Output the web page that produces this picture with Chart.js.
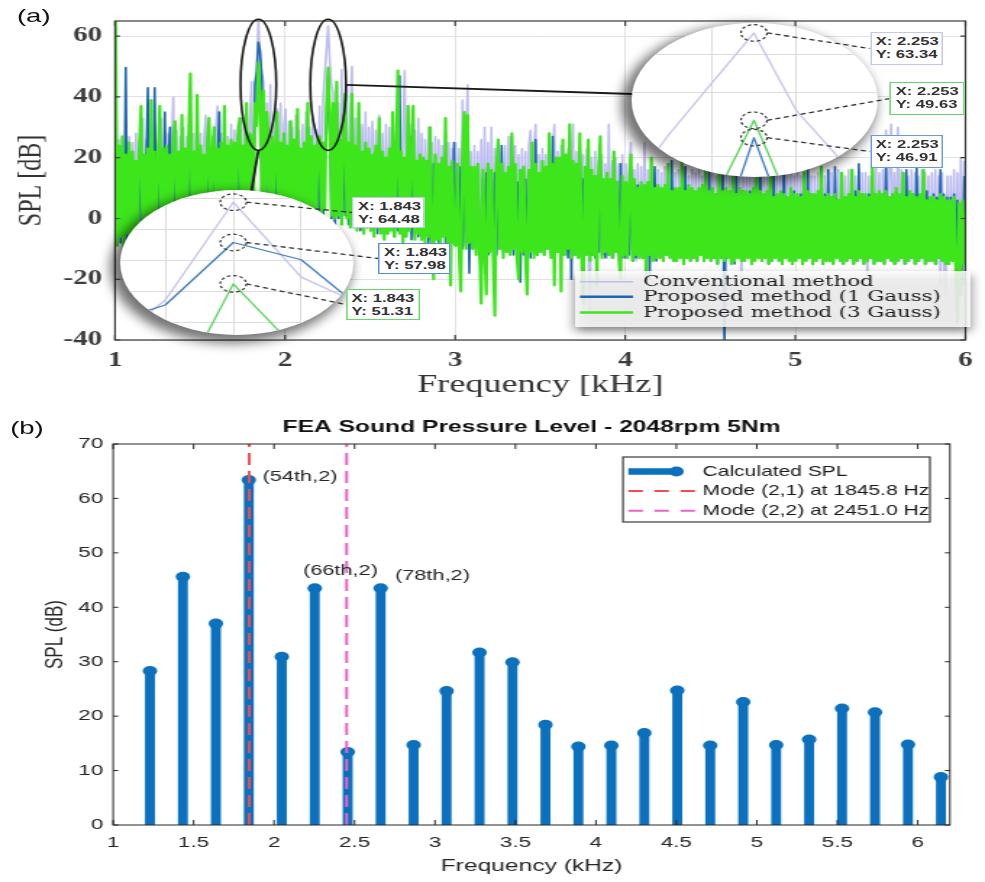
<!DOCTYPE html>
<html lang="en">
<head>
<meta charset="utf-8">
<title>SPL comparison</title>
<script src="https://cdn.jsdelivr.net/npm/chart.js@4.4.1/dist/chart.umd.min.js"></script>
<style>
  html, body { margin: 0; padding: 0; background: #fff; overflow: hidden; }
  /* the figure is laid out narrow and widened as a whole */
  #figure { position: relative; width: 680px; height: 882px; transform: scaleX(1.4485); transform-origin: 0 0; }
  #figure canvas { position: absolute; }
  .lens { position: absolute; overflow: hidden; border-radius: 50%; background: #fff;
          box-shadow: -4px 5px 10px 3px rgba(0, 0, 0, 0.55); }
  .lens canvas { left: 0; top: 0; }
  .tip { position: absolute; box-sizing: border-box; background: #fff; border: 1.5px solid #999;
         font: bold 11.5px "Liberation Sans", Arial, sans-serif; color: #333; line-height: 13px;
         padding: 2px 0 0 3px; white-space: nowrap; }
  .panel-tag { position: absolute; font: 19px "Liberation Sans", Arial, sans-serif; color: #111; }
</style>
</head>
<body>
<div id="figure">
  <div class="panel-tag" style="left:11.7px; top:5px;">(a)</div>
  <canvas id="specChart" width="680" height="400" style="left:0; top:0;"></canvas>
  <div class="lens" style="left:83px; top:190px; width:161px; height:145px;"><canvas id="lensAChart" width="161" height="145"></canvas></div>
  <div class="lens" style="left:436px; top:23px; width:170px; height:154px;"><canvas id="lensBChart" width="170" height="154"></canvas></div>
  <canvas id="tipLayer" width="680" height="400" style="left:0; top:0;"></canvas>
  <div class="panel-tag" style="left:7px; top:417px;">(b)</div>
  <canvas id="feaChart" width="680" height="472" style="left:0; top:410px;"></canvas>
</div>
<script>
// ---------- (a) measured spectra, 10 Hz bins ----------
const freqA = [
  1.003,1.013,1.023,1.033,1.043,1.053,1.063,1.073,1.083,1.093,
  1.103,1.113,1.123,1.133,1.143,1.153,1.163,1.173,1.183,1.193,
  1.203,1.213,1.223,1.233,1.243,1.253,1.263,1.273,1.283,1.293,
  1.303,1.313,1.323,1.333,1.343,1.353,1.363,1.373,1.383,1.393,
  1.403,1.413,1.423,1.433,1.443,1.453,1.463,1.473,1.483,1.493,
  1.503,1.513,1.523,1.533,1.543,1.553,1.563,1.573,1.583,1.593,
  1.603,1.613,1.623,1.633,1.643,1.653,1.663,1.673,1.683,1.693,
  1.703,1.713,1.723,1.733,1.743,1.753,1.763,1.773,1.783,1.793,
  1.803,1.813,1.823,1.833,1.843,1.853,1.863,1.873,1.883,1.893,
  1.903,1.913,1.923,1.933,1.943,1.953,1.963,1.973,1.983,1.993,
  2.003,2.013,2.023,2.033,2.043,2.053,2.063,2.073,2.083,2.093,
  2.103,2.113,2.123,2.133,2.143,2.153,2.163,2.173,2.183,2.193,
  2.203,2.213,2.223,2.233,2.243,2.253,2.263,2.273,2.283,2.293,
  2.303,2.313,2.323,2.333,2.343,2.353,2.363,2.373,2.383,2.393,
  2.403,2.413,2.423,2.433,2.443,2.453,2.463,2.473,2.483,2.493,
  2.503,2.513,2.523,2.533,2.543,2.553,2.563,2.573,2.583,2.593,
  2.603,2.613,2.623,2.633,2.643,2.653,2.663,2.673,2.683,2.693,
  2.703,2.713,2.723,2.733,2.743,2.753,2.763,2.773,2.783,2.793,
  2.803,2.813,2.823,2.833,2.843,2.853,2.863,2.873,2.883,2.893,
  2.903,2.913,2.923,2.933,2.943,2.953,2.963,2.973,2.983,2.993,
  3.003,3.013,3.023,3.033,3.043,3.053,3.063,3.073,3.083,3.093,
  3.103,3.113,3.123,3.133,3.143,3.153,3.163,3.173,3.183,3.193,
  3.203,3.213,3.223,3.233,3.243,3.253,3.263,3.273,3.283,3.293,
  3.303,3.313,3.323,3.333,3.343,3.353,3.363,3.373,3.383,3.393,
  3.403,3.413,3.423,3.433,3.443,3.453,3.463,3.473,3.483,3.493,
  3.503,3.513,3.523,3.533,3.543,3.553,3.563,3.573,3.583,3.593,
  3.603,3.613,3.623,3.633,3.643,3.653,3.663,3.673,3.683,3.693,
  3.703,3.713,3.723,3.733,3.743,3.753,3.763,3.773,3.783,3.793,
  3.803,3.813,3.823,3.833,3.843,3.853,3.863,3.873,3.883,3.893,
  3.903,3.913,3.923,3.933,3.943,3.953,3.963,3.973,3.983,3.993,
  4.003,4.013,4.023,4.033,4.043,4.053,4.063,4.073,4.083,4.093,
  4.103,4.113,4.123,4.133,4.143,4.153,4.163,4.173,4.183,4.193,
  4.203,4.213,4.223,4.233,4.243,4.253,4.263,4.273,4.283,4.293,
  4.303,4.313,4.323,4.333,4.343,4.353,4.363,4.373,4.383,4.393,
  4.403,4.413,4.423,4.433,4.443,4.453,4.463,4.473,4.483,4.493,
  4.503,4.513,4.523,4.533,4.543,4.553,4.563,4.573,4.583,4.593,
  4.603,4.613,4.623,4.633,4.643,4.653,4.663,4.673,4.683,4.693,
  4.703,4.713,4.723,4.733,4.743,4.753,4.763,4.773,4.783,4.793,
  4.803,4.813,4.823,4.833,4.843,4.853,4.863,4.873,4.883,4.893,
  4.903,4.913,4.923,4.933,4.943,4.953,4.963,4.973,4.983,4.993,
  5.003,5.013,5.023,5.033,5.043,5.053,5.063,5.073,5.083,5.093,
  5.103,5.113,5.123,5.133,5.143,5.153,5.163,5.173,5.183,5.193,
  5.203,5.213,5.223,5.233,5.243,5.253,5.263,5.273,5.283,5.293,
  5.303,5.313,5.323,5.333,5.343,5.353,5.363,5.373,5.383,5.393,
  5.403,5.413,5.423,5.433,5.443,5.453,5.463,5.473,5.483,5.493,
  5.503,5.513,5.523,5.533,5.543,5.553,5.563,5.573,5.583,5.593,
  5.603,5.613,5.623,5.633,5.643,5.653,5.663,5.673,5.683,5.693,
  5.703,5.713,5.723,5.733,5.743,5.753,5.763,5.773,5.783,5.793,
  5.803,5.813,5.823,5.833,5.843,5.853,5.863,5.873,5.883,5.893,
  5.903,5.913,5.923,5.933,5.943,5.953,5.963,5.973,5.983,5.993
];

// conventional method, dB
const splConv = [
  60,-5,26,-8,24,-3,30,-9,27,-4,
  25,-6,28,-3,24,-7,33,-5,26,-2,
  -5,27,-3,31,-6,25,-4,33,-7,29,
  -4,28,-6,26,40,-3,29,-5,27,-4,
  30,-2,27,-5,32,-3,28,-4,31,-2,
  28,-3,26,34,-2,29,-4,27,-1,30,
  37,-1,28,-3,30,0,27,-2,31,1,
  29,2,31,0,33,1,30,35,2,32,
  45,3,40,48.7,64.48,52.4,47.4,45,3,38,
  2,44,1,33,3,36,0,38,2,31,
  36,-1,32,1,30,-2,34,0,29,-1,
  31,0,35,2,30,-1,33,1,29,2,
  37,1,39,47.6,55.5,63.34,51.25,43.9,41,2,
  1,38,0,49,2,36,44,-1,34,50,
  -2,33,0,37,-3,31,-1,35,-2,30,
  -3,32,-1,29,-4,34,-2,28,-3,31,
  -4,30,-2,33,-5,28,-3,36,-4,29,
  48.7,-5,37,-3,31,-6,29,-4,33,-5,
  28,-6,26,-4,30,-7,25,-5,27,-6,
  26,-7,24,-5,28,-8,25,-6,23,-7,
  25,-8,23,-6,39,-9,24,44,-7,22,
  -9,24,-8,22,-10,26,-7,30,-9,25,
  -10,30,-9,23,-11,25,-8,22,-10,24,
  -10,27,-9,22,-11,24,-8,21,-10,23,
  -11,22,-9,24,29,-10,23,31,-12,21,
  -10,23,-11,21,-9,24,-12,22,31,-10,
  22,-11,24,-10,21,-12,23,-11,20,31,
  -12,22,-11,24,-13,21,-12,23,-11,-30,
  20,-12,22,-13,19,-11,21,-12,18,-13,
  31,-12,19,-13,20,-11,18,-12,21,-13,
  18,-13,17,25,-12,16,-14,18,-13,17,
  -13,25,-14,16,-12,17,-13,15,-14,16,
  -13,15,-14,17,-12,14,-13,16,-14,15,
  -14,16,-13,15,-15,17,-13,14,-14,16,
  -13,15,-14,16,-12,14,-14,17,-13,15,
  -14,16,-13,14,-15,15,-13,17,-14,15,
  -13,14,-15,16,-14,15,-13,14,-22,15,
  -14,15,-13,16,-15,14,-14,16,-13,15,
  -14,14,-13,15,-15,16,-14,14,-13,15,
  -14,15,-15,14,-13,16,-14,15,-15,14,
  -14,15,-13,14,-15,16,-14,15,-13,14,
  -15,14,-14,15,-13,16,-15,14,-14,15,
  -14,15,-15,14,-13,16,-14,15,-15,14,
  -14,16,-13,15,-15,14,-14,16,-13,15,
  -15,15,-20,14,-13,16,-15,19,-14,15,
  -14,16,-15,29,-13,15,31,-14,15,-15,
  30,-14,16,-13,15,-15,14,-14,16,-13,
  15,-15,14,-14,16,-13,15,-15,14,-14,
  15,-14,16,-15,14,-22,15,-14,-25,14,
  -15,14,-14,16,-16,15,-15,20,-14,19
];

// proposed method, 1 Gauss, dB
const spl1Gauss = [
  20,-6,22,-8,18,-4,49.7,-7,21,-5,
  19,-3,17,-5,20,-2,18,-6,16,43,
  -4,18,-3,43,-6,19,-2,17,-5,35,
  -3,18,30,-4,20,-5,17,-3,19,-6,
  18,-2,20,-4,17,-1,21,-3,19,-2,
  20,-3,18,-1,21,-4,19,-2,17,-3,
  19,35,-2,20,-1,18,-3,21,0,19,
  -1,22,1,20,-2,23,0,21,-1,24,
  22,1,44.5,47.9,57.98,55.2,46.3,2,24,0,
  -1,23,0,21,-2,24,1,20,-1,22,
  -2,21,0,23,-3,20,-1,24,-2,22,
  0,22,-1,30,1,21,-2,23,0,25,
  1,24,-1,22,27.7,46.91,29.3,0,23,-2,
  24,0,26,-1,23,1,25,-2,22,0,
  -3,21,-1,23,-4,20,-2,22,-3,19,
  -4,20,-2,22,-5,19,-3,21,-4,18,
  -5,19,-3,21,-6,18,-4,47,-5,20,
  -6,18,-4,27,-7,19,-5,17,-6,20,
  -7,17,-5,19,-8,16,-6,18,-7,16,
  -8,16,-6,18,-9,15,-7,17,-8,25,
  -9,15,-7,17,-10,14,-8,16,-18,15,
  -10,14,-8,16,-11,-17,13,-9,15,-12,
  -11,14,-9,15,-12,13,-10,24,-11,14,
  -11,13,-10,27,-12,14,-9,12,-21,13,
  -12,13,-10,14,-13,12,-11,26,-12,13,
  -11,14,-12,13,-10,15,-11,27,-12,14,
  -11,15,-12,14,-10,21,-13,15,-20,14,
  -12,14,-11,22,-13,13,-12,15,-11,14,
  -12,12,-13,11,-11,19,-12,10,-13,12,
  -12,11,-13,10,-11,12,-12,18,-13,11,
  -13,10,-12,17,-14,9,-13,11,-12,10,
  -13,9,-14,10,-20,8,-13,17,-14,9,
  -13,8,-14,9,-12,10,-13,19,-14,8,
  -14,9,-13,8,-15,17,-13,9,-14,8,
  -13,8,-14,9,-12,8,-14,10,-13,18,
  -14,9,-13,8,-15,9,-13,16,-42,8,
  -13,8,-14,9,-15,17,-13,8,-14,9,
  -14,8,-13,9,-15,8,-14,10,-13,19,
  -14,7,-13,8,-15,9,-14,16,-13,7,
  -14,8,-15,18,-13,7,-14,8,-15,9,
  -14,7,-13,8,-15,9,-14,17,-13,8,
  -15,8,-14,7,-13,9,-15,8,-14,16,
  -14,7,-15,17,-13,6,-14,8,-15,7,
  -14,8,-13,7,-15,9,-14,18,-13,8,
  -15,7,-14,8,-13,9,-15,7,-14,8,
  -14,8,-15,17,-13,7,-14,8,-15,9,
  -14,7,-13,8,-15,16,-14,7,-13,8,
  -15,17,-14,7,-13,8,-15,9,-14,7,
  -14,8,-15,7,-13,16,-14,8,-15,7,
  -15,7,-14,8,-16,6,-15,-20,-22,14
];

// proposed method, 3 Gauss, dB
const spl3Gauss = [
  66,-9,24,-6,27,-12,21,-5,25,-15,
  22,-7,19,-4,24,37,-8,21,-5,23,
  -6,39,-3,22,-7,20,37,-5,23,-8,
  24,-4,21,-6,25,32,-3,22,-7,34,
  -5,23,-2,26,47.7,-4,22,-6,40.6,-3,
  24,-4,21,-2,25,33,-5,22,30,-3,
  23,-2,25,-4,37,0,24,-3,26,-1,
  25,1,27,33,-1,24,2,38,0,28,
  26,2,38,30.5,51.31,40,4,42,-1,35,
  24,-1,27,2,23,35,-2,25,1,28,
  -3,24,0,32,-2,26,-4,36,0,23,
  -1,25,2,38,-2,27,0,24,3,26,
  27,2,25,3,36.5,49.63,34.2,1,38,0,
  45,1,26,-2,28,41,0,25,-3,41,
  -1,24,-4,38,-2,22,-5,25,-3,23,
  -4,21,-6,24,-3,33,-5,22,-7,20,
  -5,23,-4,35,-6,21,48.7,-5,22,-8,
  20,-6,37,-4,22,37,-7,19,-5,21,
  -7,20,-9,19,-6,30,-8,-20,21,-7,
  18,-9,20,-6,33,-10,17,-22,19,-8,
  -9,18,-11,-24,20,35,-10,34,-8,17,
  -10,17,-12,18,-9,-28,16,-11,-25,18,
  -11,16,-12,-32,17,26,-10,18,-13,15,
  -11,17,-12,28,-10,18,-13,-20,16,-11,
  17,-12,-25,16,-11,25,-13,18,-12,15,
  -11,19,-12,17,-10,28,-13,18,-22,20,
  -11,20,-24,26,-12,21,-10,31,-13,19,
  -12,18,-13,28,-11,-28,17,-12,26,-14,
  16,-12,14,-22,15,27,-13,13,-11,15,
  -12,13,-13,22,-11,12,-14,-20,14,-12,
  12,-13,11,21,-14,13,-12,10,-13,12,
  -13,11,-20,12,-12,20,-14,10,-13,11,
  -13,10,-14,11,-12,18,-13,9,-14,10,
  -14,10,-13,19,-15,9,-13,11,-14,10,
  -13,9,-14,10,-12,11,-14,16,-13,9,
  -14,10,-13,8,-15,17,-13,9,-14,10,
  -13,9,-15,15,-14,8,-13,10,-14,9,
  -14,9,-13,8,-15,10,-14,18,-13,9,
  -14,8,-13,9,-15,16,-14,7,-13,8,
  -14,9,-15,8,-13,7,-14,10,-15,8,
  -14,8,-13,7,-15,15,-14,9,-13,8,
  -15,8,-14,9,-13,17,-15,7,-14,8,
  -14,7,-15,8,-13,6,-14,15,-15,7,
  -14,8,-13,16,-15,7,-14,9,-13,8,
  -15,8,-14,7,-13,17,-15,8,-14,9,
  -14,8,-15,9,-13,7,-14,8,-15,10,
  -14,8,-13,15,-15,7,-14,9,-13,8,
  -15,7,-14,8,-13,16,-15,6,-14,7,
  -14,7,-15,6,-13,8,-14,7,-15,6,
  -15,6,-14,7,-16,-34,5,-25,6,-15
];

const xTicksA = [1, 2, 3, 4, 5, 6];
const yTicksA = [-40, -20, 0, 20, 40, 60];
const peakFreqs = [1.843, 2.253];

// magnifier grids
const lensAGridX = [1.833, 1.843, 1.853];
const lensAGridY = [45, 50, 55, 60, 65];
const lensBGridX = [2.243, 2.263];
const lensBGridY = [44, 54, 60];

// ---------- (b) FEA harmonics ----------
const harmonicFreq = [1.2288, 1.4336, 1.6384, 1.8432, 2.048, 2.2528, 2.4576, 2.6624, 2.8672, 3.072,
  3.2768, 3.4816, 3.6864, 3.8912, 4.096, 4.3008, 4.5056, 4.7104, 4.9152, 5.12,
  5.3248, 5.5296, 5.7344, 5.9392, 6.144];
const harmonicSpl = [28.3, 45.6, 37.0, 63.4, 30.9, 43.5, 13.4, 43.5, 14.7, 24.6,
  31.7, 29.9, 18.4, 14.4, 14.6, 16.9, 24.7, 14.6, 22.6, 14.7,
  15.7, 21.4, 20.7, 14.8, 8.8];
const harmonicTagIdx = [3, 5, 7];
const harmonicTagText = ['(54th,2)', '(66th,2)', '(78th,2)'];
const modeFreqs = [1.8458, 2.451];   // kHz
const modeNames = ['Mode (2,1)', 'Mode (2,2)'];
const xTicksB = [1, 1.5, 2, 2.5, 3, 3.5, 4, 4.5, 5, 5.5, 6];
const yTicksB = [0, 10, 20, 30, 40, 50, 60, 70];

// ---------- styles ----------
const COLORS = { conv: '#bdbdf0', g1: '#1f66b4', g3: '#3de51b' };
const LENS_COLORS = { conv: '#c4c4ee', g1: '#3d7ec4', g3: '#58d458' };
const LINE_W = { conv: 1.6, g1: 1.6, g3: 2.2 };
const STEM_BLUE = '#0b70bd';
const MODE_COLORS = ['#f54b50', '#e963c8'];
const SANS = '"Liberation Sans", Arial, sans-serif';
const SERIF = '"Liberation Serif", "Times New Roman", serif';
const DSERIF = '"DejaVu Serif", serif';

Chart.defaults.color = '#262626';

function fixedTicks(list) {
  return scale => { scale.ticks = list.map(v => ({ value: v })); };
}

// box round the axes with short inward ticks
const frameTicks = {
  id: 'frameTicks',
  afterDatasetsDraw(chart, args, opts) {
    const { ctx, chartArea: a, scales: { x, y } } = chart;
    ctx.save();
    ctx.strokeStyle = opts.color;
    ctx.lineWidth = opts.width;
    ctx.strokeRect(a.left, a.top, a.right - a.left, a.bottom - a.top);
    ctx.beginPath();
    x.ticks.forEach(t => {
      const px = x.getPixelForValue(t.value);
      ctx.moveTo(px, a.bottom); ctx.lineTo(px, a.bottom - opts.len);
      ctx.moveTo(px, a.top); ctx.lineTo(px, a.top + opts.len);
    });
    y.ticks.forEach(t => {
      const py = y.getPixelForValue(t.value);
      ctx.moveTo(a.left, py); ctx.lineTo(a.left + opts.lenX, py);
      ctx.moveTo(a.right, py); ctx.lineTo(a.right - opts.lenX, py);
    });
    ctx.stroke();
    ctx.restore();
  }
};

// legend of panel (a): soft white box in the lower right corner
const specLegend = {
  id: 'specLegend',
  afterDatasetsDraw(chart) {
    const ctx = chart.ctx;
    ctx.save();
    ctx.shadowColor = 'rgba(0,0,0,0.6)';
    ctx.shadowBlur = 8;
    ctx.shadowOffsetY = 4;
    ctx.fillStyle = 'rgba(255,255,255,0.84)';
    ctx.fillRect(397, 271, 273, 56);
    ctx.restore();

    const rows = [281.7, 296.7, 312.5];
    const widths = [1.5, 2.5, 2.5];
    ctx.save();
    ctx.font = '14.7px ' + DSERIF;
    ctx.textBaseline = 'middle';
    chart.data.datasets.forEach((ds, i) => {
      ctx.strokeStyle = ds.borderColor;
      ctx.lineWidth = widths[i];
      ctx.beginPath();
      ctx.moveTo(400.4, rows[i]);
      ctx.lineTo(437, rows[i]);
      ctx.stroke();
      ctx.fillStyle = '#1a1a1a';
      ctx.fillText(ds.label, 443.9, rows[i] + 0.5);
    });
    ctx.restore();
  }
};

// rings round the two peaks and the leader lines to the magnifiers
const RING_CENTER_DB = 44, RING_HALF_DB = 21.6, RING_HALF_KHZ = 0.105;
const lensBoxes = [
  { left: 83, top: 190, w: 161, h: 145 },
  { left: 436, top: 23, w: 170, h: 154 }
];
const lensGuides = {
  id: 'lensGuides',
  afterDraw(chart) {
    const { ctx, scales: { x, y } } = chart;
    const rx = x.getPixelForValue(1 + RING_HALF_KHZ) - x.getPixelForValue(1);
    const ry = y.getPixelForValue(0) - y.getPixelForValue(RING_HALF_DB);
    const cy = y.getPixelForValue(RING_CENTER_DB);
    ctx.save();
    ctx.strokeStyle = '#1a1a1a';
    ctx.lineWidth = 1.6;
    peakFreqs.forEach(f => {
      ctx.beginPath();
      ctx.ellipse(x.getPixelForValue(f), cy, rx, ry, 0, 0, Math.PI * 2);
      ctx.stroke();
    });
    const c1 = x.getPixelForValue(peakFreqs[0]);
    const c2 = x.getPixelForValue(peakFreqs[1]);
    const la = lensBoxes[0], lb = lensBoxes[1];
    ctx.lineWidth = 1.8;
    ctx.beginPath();
    ctx.moveTo(c1, cy + ry);
    ctx.lineTo(la.left + la.w / 2 + 10, la.top + 2);
    ctx.moveTo(c2 + rx, cy);
    ctx.lineTo(lb.left + 1, lb.top + lb.h / 2 - 6);
    ctx.stroke();
    ctx.restore();
  }
};

// ---------- panel (a) ----------
const tickFontA = { family: SERIF, size: 20, weight: 'bold' };

const specChart = new Chart(document.getElementById('specChart'), {
  type: 'line',
  data: {
    labels: freqA,
    datasets: [
      { label: 'Conventional method', data: splConv, borderColor: COLORS.conv, borderWidth: LINE_W.conv, order: 3 },
      { label: 'Proposed method (1 Gauss)', data: spl1Gauss, borderColor: COLORS.g1, borderWidth: LINE_W.g1, order: 2 },
      { label: 'Proposed method (3 Gauss)', data: spl3Gauss, borderColor: COLORS.g3, borderWidth: LINE_W.g3, order: 1 }
    ]
  },
  options: {
    responsive: false,
    animation: false,
    events: [],
    layout: { padding: { top: 15, right: 8.6, bottom: 0, left: 0 } },
    elements: { point: { radius: 0 }, line: { borderJoinStyle: 'round', tension: 0 } },
    plugins: {
      legend: { display: false },
      tooltip: { enabled: false },
      frameTicks: { color: '#3a3a3a', width: 1.2, len: 5, lenX: 3.5 }
    },
    scales: {
      x: {
        type: 'linear', min: 1, max: 6,
        afterBuildTicks: fixedTicks(xTicksA),
        afterFit: s => { s.height = 60; },
        grid: { color: '#e2e2e2', drawTicks: false },
        border: { display: false },
        ticks: { font: tickFontA, color: '#3c3c3c', padding: 8.5, maxRotation: 0, autoSkip: false, callback: v => String(v) },
        title: { display: true, text: 'Frequency [kHz]', font: { family: SERIF, size: 25 }, color: '#333', padding: { top: 0, bottom: 0 } }
      },
      y: {
        min: -40, max: 65,
        afterBuildTicks: fixedTicks(yTicksA),
        afterFit: s => { s.width = 79.4; },
        grid: { color: '#e2e2e2', drawTicks: false },
        border: { display: false },
        ticks: { font: tickFontA, color: '#3c3c3c', padding: 9, autoSkip: false, callback: v => String(v) },
        title: { display: true, text: 'SPL [dB]', font: { family: SERIF, size: 24 }, color: '#333', padding: { top: 7.7, bottom: 0 } }
      }
    }
  },
  plugins: [frameTicks, specLegend, lensGuides]
});

// magnifiers: the same three spectra on a zoomed axis
function makeLens(canvasId, xMin, xMax, yMin, yMax, gridX, gridY) {
  const grid = { color: '#dcdcdc', drawTicks: false };
  return new Chart(document.getElementById(canvasId), {
    type: 'line',
    data: {
      labels: freqA,
      datasets: [
        { data: splConv, borderColor: LENS_COLORS.conv, borderWidth: 1.3, order: 3 },
        { data: spl1Gauss, borderColor: LENS_COLORS.g1, borderWidth: 1.3, order: 2 },
        { data: spl3Gauss, borderColor: LENS_COLORS.g3, borderWidth: 1.3, order: 1 }
      ]
    },
    options: {
      responsive: false,
      animation: false,
      events: [],
      layout: { padding: 0 },
      elements: { point: { radius: 0 }, line: { borderJoinStyle: 'round', tension: 0 } },
      plugins: { legend: { display: false }, tooltip: { enabled: false } },
      scales: {
        x: { type: 'linear', min: xMin, max: xMax, afterBuildTicks: fixedTicks(gridX),
             ticks: { display: false }, grid: grid, border: { display: false } },
        y: { min: yMin, max: yMax, afterBuildTicks: fixedTicks(gridY),
             ticks: { display: false }, grid: grid, border: { display: false } }
      }
    }
  });
}

lensBoxes[0].chart = makeLens('lensAChart', 1.82636, 1.86069, 43.06, 66.45, lensAGridX, lensAGridY);
lensBoxes[1].chart = makeLens('lensBChart', 2.22386, 2.28248, 40.73, 64.9, lensBGridX, lensBGridY);

// data tips: dashed ring on the peak, dashed leader, value box
const tipDefs = [
  { lens: 0, series: splConv, box: [243.2, 197, 50, 31], border: '#c6c6ea' },
  { lens: 0, series: spl1Gauss, box: [261.2, 243, 50, 31], border: '#5a8fd0' },
  { lens: 0, series: spl3Gauss, box: [238.6, 289, 51, 31], border: '#66d466' },
  { lens: 1, series: splConv, box: [600.6, 32, 50, 33], border: '#c6c6ea' },
  { lens: 1, series: spl3Gauss, box: [614.4, 82, 52, 33], border: '#66d466' },
  { lens: 1, series: spl1Gauss, box: [600.6, 135, 50, 33], border: '#6b9bd3' }
];

const tctx = document.getElementById('tipLayer').getContext('2d');
const figure = document.getElementById('figure');
tctx.strokeStyle = '#333';
tipDefs.forEach(t => {
  const lens = lensBoxes[t.lens];
  const i = freqA.indexOf(peakFreqs[t.lens]);
  const cx = lens.left + lens.chart.scales.x.getPixelForValue(freqA[i]);
  const cy = lens.top + lens.chart.scales.y.getPixelForValue(t.series[i]);
  const [bx, by, bw, bh] = t.box;

  tctx.lineWidth = 1.2;
  tctx.setLineDash([2.5, 2]);
  tctx.beginPath();
  tctx.ellipse(cx, cy, 9, 8.3, 0, 0, Math.PI * 2);
  tctx.stroke();

  tctx.lineWidth = 1.3;
  tctx.setLineDash([3.5, 2.5]);
  tctx.beginPath();
  tctx.moveTo(cx + 9, cy);
  tctx.lineTo(bx, by + bh / 2);
  tctx.stroke();

  const tip = document.createElement('div');
  tip.className = 'tip';
  tip.style.left = bx + 'px';
  tip.style.top = by + 'px';
  tip.style.width = bw + 'px';
  tip.style.height = bh + 'px';
  tip.style.borderColor = t.border;
  tip.innerHTML = 'X: ' + freqA[i].toFixed(3) + '<br>Y: ' + t.series[i].toFixed(2);
  figure.appendChild(tip);
});

// ---------- panel (b) ----------
const stemPoints = harmonicFreq.map((f, i) => ({ x: f, y: harmonicSpl[i] }));

const feaLegend = {
  id: 'feaLegend',
  afterDraw(chart) {
    const ctx = chart.ctx;
    const rows = [61.5, 81, 100.7];
    ctx.save();
    ctx.fillStyle = '#fff';
    ctx.fillRect(430.1, 47, 211.9, 65);
    ctx.strokeStyle = '#3a3a3a';
    ctx.lineWidth = 1.2;
    ctx.strokeRect(430.1, 47, 211.9, 65);

    // calculated SPL: thick line with the stem marker
    ctx.strokeStyle = STEM_BLUE;
    ctx.lineWidth = 6.5;
    ctx.beginPath();
    ctx.moveTo(433.8, rows[0]);
    ctx.lineTo(467, rows[0]);
    ctx.stroke();
    ctx.fillStyle = STEM_BLUE;
    ctx.beginPath();
    ctx.arc(467, rows[0], 5, 0, Math.PI * 2);
    ctx.fill();

    modeFreqs.forEach((f, k) => {
      ctx.strokeStyle = MODE_COLORS[k];
      ctx.lineWidth = 2;
      ctx.setLineDash([10, 8]);
      ctx.beginPath();
      ctx.moveTo(433.8, rows[k + 1]);
      ctx.lineTo(481, rows[k + 1]);
      ctx.stroke();
    });
    ctx.setLineDash([]);

    const labels = ['Calculated SPL'].concat(modeFreqs.map((f, k) => modeNames[k] + ' at ' + (f * 1000).toFixed(1) + ' Hz'));
    ctx.font = '14.5px ' + SANS;
    ctx.fillStyle = '#1a1a1a';
    ctx.textBaseline = 'middle';
    labels.forEach((s, k) => ctx.fillText(s, 485.1, rows[k]));
    ctx.restore();
  }
};

const tagOffsets = [[9.5, -3], [-8.1, -17], [9.9, -12]];
const harmonicTags = {
  id: 'harmonicTags',
  afterDatasetsDraw(chart) {
    const { ctx, scales: { x, y } } = chart;
    ctx.save();
    ctx.font = '15px ' + SANS;
    ctx.fillStyle = '#262626';
    ctx.textBaseline = 'middle';
    harmonicTagIdx.forEach((k, n) => {
      ctx.fillText(harmonicTagText[n],
        x.getPixelForValue(harmonicFreq[k]) + tagOffsets[n][0],
        y.getPixelForValue(harmonicSpl[k]) + tagOffsets[n][1]);
    });
    ctx.restore();
  }
};

const feaChart = new Chart(document.getElementById('feaChart'), {
  type: 'bar',
  data: {
    datasets: [
      { type: 'line', label: 'Mode (2,1)', data: [{ x: modeFreqs[0], y: 0 }, { x: modeFreqs[0], y: 70 }],
        borderColor: MODE_COLORS[0], borderWidth: 2, borderDash: [12, 6], pointRadius: 0, order: 0 },
      { type: 'line', label: 'Mode (2,2)', data: [{ x: modeFreqs[1], y: 0 }, { x: modeFreqs[1], y: 70 }],
        borderColor: MODE_COLORS[1], borderWidth: 2, borderDash: [12, 6], pointRadius: 0, order: 0 },
      { type: 'line', label: 'Calculated SPL', data: stemPoints, showLine: false,
        pointRadius: 5, pointBackgroundColor: STEM_BLUE, pointBorderWidth: 0, order: 1 },
      { type: 'bar', label: 'stems', data: stemPoints, backgroundColor: STEM_BLUE, barThickness: 6.2, order: 2 }
    ]
  },
  options: {
    responsive: false,
    animation: false,
    events: [],
    layout: { padding: { top: 0, right: 24.2, bottom: 0, left: 0 } },
    plugins: {
      legend: { display: false },
      tooltip: { enabled: false },
      title: {
        display: true, fullSize: false,
        text: 'FEA Sound Pressure Level - 2048rpm 5Nm',
        font: { family: SANS, size: 17, weight: 'bold' }, color: '#111',
        padding: { top: 7.6, bottom: 6 }
      },
      frameTicks: { color: '#262626', width: 1, len: 5, lenX: 3.5 }
    },
    scales: {
      x: {
        type: 'linear', min: 1, max: 6.2, offset: false,
        afterBuildTicks: fixedTicks(xTicksB),
        afterFit: s => { s.height = 57; },
        grid: { display: false, drawTicks: false },
        border: { display: false },
        ticks: { font: { family: SANS, size: 15.5 }, padding: 8.7, maxRotation: 0, autoSkip: false, callback: v => String(v) },
        title: { display: true, text: 'Frequency (kHz)', font: { family: SANS, size: 17 }, padding: { top: 0, bottom: 5.5 } }
      },
      y: {
        min: 0, max: 70,
        afterBuildTicks: fixedTicks(yTicksB),
        afterFit: s => { s.width = 78.1; },
        grid: { display: false, drawTicks: false },
        border: { display: false },
        ticks: { font: { family: SANS, size: 15.5 }, padding: 6.8, autoSkip: false, callback: v => String(v) },
        title: { display: true, text: 'SPL (dB)', font: { family: SANS, size: 17 }, padding: { top: 27.8, bottom: 0 } }
      }
    }
  },
  plugins: [frameTicks, harmonicTags, feaLegend]
});
</script>
</body>
</html>
